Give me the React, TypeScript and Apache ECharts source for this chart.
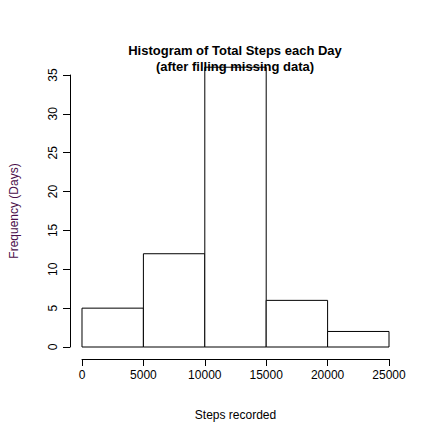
import { useEffect, useRef } from "react";
import * as echarts from "echarts";

const binStarts = [0, 5000, 10000, 15000, 20000];
const binWidth = 5000;
const counts = [5, 12, 36, 6, 2];

export default function App() {
  const ref = useRef<HTMLDivElement>(null);
  useEffect(() => {
    const chart = echarts.init(ref.current, null, { renderer: "svg" });
    const font = "Liberation Sans, Arial, sans-serif";
    chart.setOption({
      animation: false,
      backgroundColor: "#fff",
      title: {
        text: "Histogram of Total Steps each Day\n(after filling missing data)",
        left: 230,
        textAlign: "center",
        top: 37,
        textStyle: { fontFamily: font, fontSize: 13, fontWeight: "bold", color: "#000", lineHeight: 16 },
      },
      grid: { left: 71, right: 43, top: 75, bottom: 85 },
      xAxis: {
        type: "value",
        min: 0,
        max: 25000,
        interval: 5000,
        offset: 12,
        name: "Steps recorded",
        nameLocation: "middle",
        nameGap: 50,
        nameTextStyle: { fontFamily: font, fontSize: 12, color: "#000" },
        axisLine: { show: true, onZero: false, lineStyle: { color: "#000" } },
        axisTick: { show: true, length: 7, lineStyle: { color: "#000" } },
        axisLabel: { fontFamily: font, fontSize: 12, color: "#000", margin: 10, formatter: (v: number) => String(v) },
        splitLine: { show: false },
      },
      yAxis: {
        type: "value",
        min: 0,
        max: 35,
        interval: 5,
        offset: 12,
        name: "Frequency (Days)",
        nameLocation: "middle",
        nameGap: 50,
        nameTextStyle: { fontFamily: font, fontSize: 12, color: "#4b0f4b" },
        axisLine: { show: true, onZero: false, lineStyle: { color: "#000" } },
        axisTick: { show: true, length: 7, lineStyle: { color: "#000" } },
        axisLabel: { fontFamily: font, fontSize: 12, color: "#000", rotate: 90, margin: 11 },
        splitLine: { show: false },
      },
      series: [
        {
          type: "custom",
          clip: false,
          data: binStarts.map((s, i) => [s, s + binWidth, counts[i]]),
          renderItem: (_p: any, api: any) => {
            const a = api.coord([api.value(0), 0]);
            const b = api.coord([api.value(1), api.value(2)]);
            return {
              type: "rect",
              shape: { x: a[0], y: b[1], width: b[0] - a[0], height: a[1] - b[1] },
              style: { fill: "#fff", stroke: "#000", lineWidth: 1 },
            };
          },
        },
      ],
    });
    return () => chart.dispose();
  }, []);
  return <div ref={ref} style={{ width: 432, height: 432, margin: -8 }} />;
}
